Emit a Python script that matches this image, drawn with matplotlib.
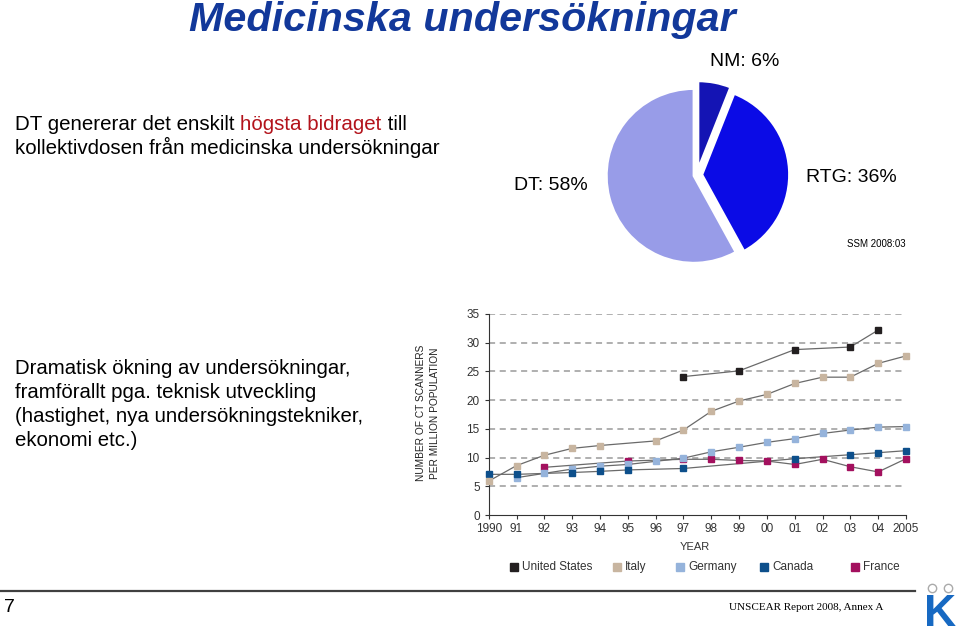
import numpy as np
import matplotlib
matplotlib.use("Agg")
import matplotlib.pyplot as plt
from matplotlib.lines import Line2D

# pie data
pie_labels = ["NM", "RTG", "DT"]
pie_shares = [6, 36, 58]

# CT scanners per million population
years = ["1990", "91", "92", "93", "94", "95", "96", "97", "98", "99",
         "00", "01", "02", "03", "04", "2005"]
united_states = [None, None, None, None, None, None, None, 24.1, None, 25.1,
                 None, 28.8, None, 29.25, 32.2, None]
italy = [5.9, 8.6, 10.4, 11.6, 12.1, None, 12.9, 14.8, 18.05, 19.85,
         21.0, 22.9, 24.0, 24.0, 26.4, 27.7]
germany = [None, 6.5, 7.25, 8.0, 8.5, 8.8, 9.35, 9.9, 11.0, 11.8,
           12.65, 13.3, 14.2, 14.8, 15.3, 15.4]
canada = [7.08, 7.08, None, 7.4, 7.6, 7.85, None, 8.1, None, None,
          None, 9.8, None, 10.5, 10.85, 11.2]
france = [None, None, 8.3, None, None, 9.4, None, 9.7, 9.7, 9.5,
          9.4, 8.8, 9.7, 8.4, 7.5, 9.8]

W, H = 959, 634
plt.rcParams['font.family'] = ['Liberation Sans', 'DejaVu Sans']

fig = plt.figure(figsize=(W / 100, H / 100), dpi=100)
renderer = fig.canvas.get_renderer()


def fx(px):
    return px / W


def fy(py):
    return 1 - py / H


def text_width(s, size):
    t = fig.text(0, 0, s + "|", fontsize=size)
    b = fig.text(0, 0, "|", fontsize=size)
    w = t.get_window_extent(renderer).width - b.get_window_extent(renderer).width
    t.remove()
    b.remove()
    return w


# title
fig.text(fx(462), fy(20), "Medicinska undersökningar", fontsize=29.7,
         fontweight='bold', fontstyle='italic', color='#12389A',
         ha='center', va='center')

# first text block, with red part
body = 14.8
x0 = 15
parts = [("DT genererar det enskilt ", 'black'),
         ("högsta bidraget", '#B3131B'),
         (" till", 'black')]
x = x0
for s, c in parts:
    fig.text(fx(x), fy(130), s, fontsize=body, color=c, va='baseline')
    x += text_width(s, body)
fig.text(fx(x0), fy(154), "kollektivdosen från medicinska undersökningar",
         fontsize=body, va='baseline')

# second text block
lines2 = ["Dramatisk ökning av undersökningar,",
          "framförallt pga. teknisk utveckling",
          "(hastighet, nya undersökningstekniker,",
          "ekonomi etc.)"]
for i, s in enumerate(lines2):
    fig.text(fx(x0), fy(374 + 24 * i), s, fontsize=14.7, va='baseline')

# pie
axp = fig.add_axes([fx(597), fy(275), 200 / W, 200 / H])
axp.pie(pie_shares, startangle=90, counterclock=False,
        colors=['#1414B4', '#0B0BE6', '#989CE8'],
        explode=[0.08, 0.06, 0.04],
        wedgeprops=dict(edgecolor='white', linewidth=1.5))
axp.set_xlim(-1.15, 1.15)
axp.set_ylim(-1.15, 1.15)
axp.set_aspect('equal')
axp.axis('off')

fig.text(fx(745), fy(61), "NM: %d%%" % pie_shares[0], fontsize=14,
         ha='center', va='center')
fig.text(fx(851), fy(178), "RTG: %d%%" % pie_shares[1], fontsize=14,
         ha='center', va='center')
fig.text(fx(551), fy(186), "DT: %d%%" % pie_shares[2], fontsize=14,
         ha='center', va='center')
fig.text(fx(876), fy(244), "SSM 2008:03", fontsize=7, ha='center', va='center')

# line chart
ax = fig.add_axes([fx(488.7), fy(515), (906 - 488.7) / W, (515 - 314) / H])
series = [("France", france, '#A3105E'),
          ("Germany", germany, '#95B3DB'),
          ("Canada", canada, '#0D4F8B'),
          ("Italy", italy, '#C8B5A0'),
          ("United States", united_states, '#231F20')]
colors = {}
for name, vals, col in series:
    xs = [i for i, v in enumerate(vals) if v is not None]
    ys = [v for v in vals if v is not None]
    ax.plot(xs, ys, color='#6a6a6a', lw=0.9, zorder=2, clip_on=False)
    ax.plot(xs, ys, ls='none', marker='s', ms=5, color=col, zorder=3,
            clip_on=False)
    colors[name] = col

ax.set_xlim(0, len(years) - 1)
ax.set_ylim(0, 35)
ax.set_xticks(range(len(years)))
ax.set_xticklabels(years)
ax.set_yticks(range(0, 36, 5))
for yv in range(5, 36, 5):
    ax.axhline(yv, color='#9a9a9a', lw=1.1, ls=(0, (4, 3)), zorder=1)
ax.spines['top'].set_visible(False)
ax.spines['right'].set_visible(False)
ax.spines['left'].set_color('#333333')
ax.spines['bottom'].set_color('#333333')
ax.tick_params(labelsize=8.5, colors='#333333', length=3, width=0.8)
ax.tick_params(axis='x', pad=3)

fig.text(fx(428), fy(413), "NUMBER OF CT SCANNERS\nPER MILLION POPULATION",
         fontsize=7.3, rotation=90, ha='center', va='center',
         color='#222222', linespacing=1.5)
fig.text(fx(695), fy(547), "YEAR", fontsize=8, ha='center', va='center',
         color='#333333')

# legend, laid out like the original row
order = ["United States", "Italy", "Germany", "Canada", "France"]
leg_x = [514, 617, 680, 764, 855]
for name, lx in zip(order, leg_x):
    fig.add_artist(Line2D([fx(lx)], [fy(567)], ls='none', marker='s', ms=6,
                          color=colors[name]))
    fig.text(fx(lx + 8), fy(567), name, fontsize=8.5, color='#333333',
             va='center', ha='left')

# footer
fig.add_artist(Line2D([0, fx(915)], [fy(591), fy(591)], color='#404040', lw=1.6))
fig.text(fx(4), fy(607), "7", fontsize=14, va='center')
fig.text(fx(883), fy(608), "UNSCEAR Report 2008, Annex A", fontsize=8,
         family='Liberation Serif', ha='right', va='center')
fig.text(fx(940), fy(615), "K", fontsize=32, fontweight='bold', color='#1769C2',
         ha='center', va='center')
fig.add_artist(Line2D([fx(932), fx(948)], [fy(588), fy(588)], ls='none',
                      marker='o', ms=6, mfc='none', mec='#aaaaaa', mew=1))

fig.savefig("out.png", dpi=100)
